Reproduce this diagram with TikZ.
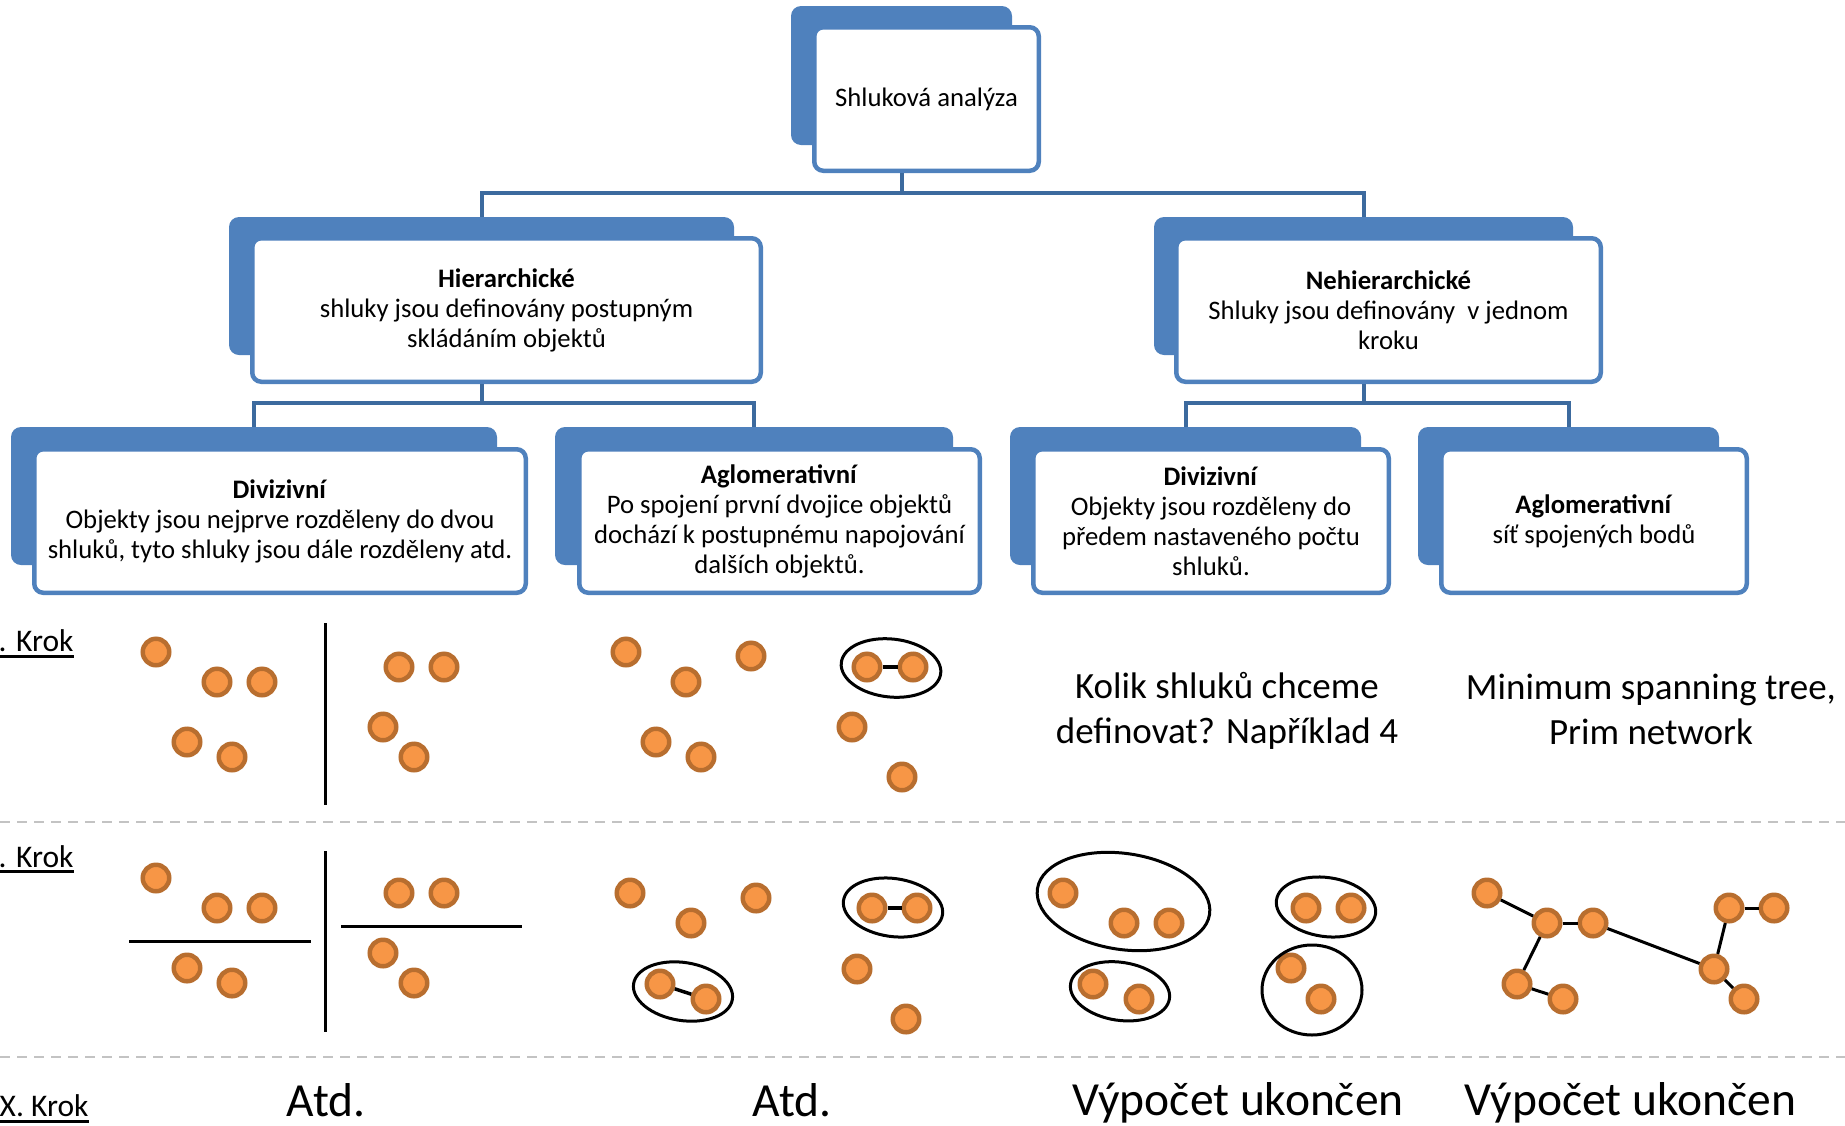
\documentclass[tikz,border=0pt]{standalone}
\usepackage{fontspec}
\setmainfont{Carlito}
\definecolor{smartblue}{HTML}{4F81BD}
\definecolor{stemblue}{HTML}{3C6A9E}
\definecolor{dotorange}{HTML}{F79646}
\definecolor{dotbrown}{HTML}{B86E2F}
\definecolor{rulegray}{HTML}{C3C3C3}
\tikzset{cardback/.style={rectangle,rounded corners=10pt,fill=smartblue,inner sep=0pt},
         card/.style={rectangle,rounded corners=9pt,draw=smartblue,line width=4.5pt,fill=white,inner sep=0pt,align=center,font=\fontsize{26.7}{30}\selectfont},
         stem/.style={draw=stemblue,line width=4pt},
         obj/.style={circle,fill=dotorange,draw=dotbrown,line width=4.5pt,inner sep=0pt,minimum size=26.5pt},
         pair/.style={line width=3.5pt},
         ring/.style={line width=3pt},
         split/.style={line width=3pt},
         rowrule/.style={draw=rulegray,line width=2.5pt,dash pattern=on 10pt off 7pt},
         krok/.style={anchor=base west,inner sep=0pt,font=\fontsize{31.5}{36}\selectfont},
         hint/.style={align=center,inner sep=0pt,font=\fontsize{37}{45}\selectfont},
         result/.style={anchor=base,inner sep=0pt,font=\fontsize{47.5}{55}\selectfont}}

\begin{document}
\begin{tikzpicture}[x=1pt,y=-1pt]
\useasboundingbox (0,0) rectangle (1845,1125);

%tree boxes
\node[cardback, minimum width=221pt, minimum height=139pt] (top-b)  at (901.5,75.5) {};
\node[card, minimum width=224.5pt, minimum height=143.5pt] (top)     at (926.5,99)   {Shluková analýza};
\node[cardback, minimum width=505pt, minimum height=138pt] (hier-b) at (481.5,286)  {};
\node[card, minimum width=508.5pt, minimum height=143.5pt] (hier)    at (506.5,310)  {\textbf{Hierarchické}\\shluky jsou definovány postupným\\skládáním objektů};
\node[cardback, minimum width=419pt, minimum height=138pt] (nonh-b) at (1363.5,286) {};
\node[card, minimum width=424.5pt, minimum height=143.5pt] (nonh)    at (1388.5,310) {\textbf{Nehierarchické}\\Shluky jsou definovány\ \ v jednom\\kroku};
\node[cardback, minimum width=486pt, minimum height=138pt] (divl-b) at (254,496)    {};
\node[card, minimum width=491.5pt, minimum height=143.5pt] (divl)    at (280,521)    {\textbf{Divizivní}\\Objekty jsou nejprve rozděleny do dvou\\shluků, tyto shluky jsou dále rozděleny atd.};
\node[cardback, minimum width=398pt, minimum height=138pt] (aglol-b) at (754,496)   {};
\node[card, minimum width=400.5pt, minimum height=143.5pt] (aglol)   at (779.5,521)  {\textbf{Aglomerativní}\\Po spojení první dvojice objektů\\dochází k postupnému napojování\\dalších objektů.};
\node[cardback, minimum width=351pt, minimum height=138pt] (divr-b) at (1185.5,496) {};
\node[card, minimum width=355.5pt, minimum height=143.5pt] (divr)    at (1211,521)   {\textbf{Divizivní}\\Objekty jsou rozděleny do\\předem nastaveného počtu\\shluků.};
\node[cardback, minimum width=301pt, minimum height=138pt] (aglor-b) at (1568.5,496) {};
\node[card, minimum width=305.5pt, minimum height=143.5pt] (aglor)   at (1594,521)   {\textbf{Aglomerativní}\\síť spojených bodů};

%tree lines
\draw[stem] (top-b.south |- top.south)   -- ++(0,20) -| (hier-b.north);   %top--hier
\draw[stem] (top-b.south |- top.south)   -- ++(0,20) -| (nonh-b.north);   %top--nonh
\draw[stem] (hier-b.south |- hier.south) -- ++(0,19) -| (divl-b.north);   %hier--divl
\draw[stem] (hier-b.south |- hier.south) -- ++(0,19) -| (aglol-b.north);  %hier--aglol
\draw[stem] (nonh-b.south |- nonh.south) -- ++(0,19) -| (divr-b.north);   %nonh--divr
\draw[stem] (nonh-b.south |- nonh.south) -- ++(0,19) -| (aglor-b.north);  %nonh--aglor

%row rules
\draw[rowrule] (0,822)  -- (1845,822);
\draw[rowrule] (0,1057) -- (1845,1057);

%step labels
\node[krok] (k1) at (-1.5,651.5) {. Krok};
\node[krok] (k2) at (-1.5,867)   {. Krok};
\node[krok] (kx) at (-0.5,1116.5) {X. Krok};
\draw[line width=3pt] ([yshift=-4.7pt]k1.base west) -- ([yshift=-4.7pt]k1.base east);
\draw[line width=3pt] ([yshift=-4.7pt]k2.base west) -- ([yshift=-4.7pt]k2.base east);
\draw[line width=3pt] ([yshift=-4.7pt]kx.base west) -- ([yshift=-4.7pt]kx.base east);

%step 1, divisive
\node[obj] (dv1) at (156,652) {};  \node[obj] (dv2) at (217,682) {};  \node[obj] (dv3) at (262,682) {};
\node[obj] (dv4) at (187,742) {};  \node[obj] (dv5) at (232,757) {};
\node[obj] (dv6) at (399,667) {};  \node[obj] (dv7) at (444,667) {};
\node[obj] (dv8) at (383,727) {};  \node[obj] (dv9) at (414,757) {};
\draw[split] (325,623) -- (325,805);

%step 2, divisive
\node[obj] (dw1) at (156,878) {};  \node[obj] (dw2) at (217,908) {};  \node[obj] (dw3) at (262,908) {};
\node[obj] (dw4) at (187,968) {};  \node[obj] (dw5) at (232,983) {};
\node[obj] (dw6) at (399,893) {};  \node[obj] (dw7) at (444,893) {};
\node[obj] (dw8) at (383,953) {};  \node[obj] (dw9) at (414,983) {};
\draw[split] (325,851) -- (325,1032);
\draw[split] (129,941) -- (311,941);
\draw[split] (341,926) -- (522,926);

%step 1, agglomerative
\node[obj] (ag1) at (626,652) {};  \node[obj] (ag2) at (751,656) {};  \node[obj] (ag3) at (686,682) {};
\node[obj] (ag4) at (656,742) {};  \node[obj] (ag5) at (701,757) {};
\node[obj] (ag6) at (867,667) {};  \node[obj] (ag7) at (913,667) {};
\node[obj] (ag8) at (852,727) {};  \node[obj] (ag9) at (902,777) {};
\draw[pair] (ag6) -- (ag7);
\draw[ring, rotate around={-6:(891,668)}] (891,668) ellipse [x radius=50pt, y radius=29pt];

%step 2, agglomerative
\node[obj] (ah1) at (630,893) {};  \node[obj] (ah2) at (756,898) {};  \node[obj] (ah3) at (691,923) {};
\node[obj] (ah4) at (660,984) {};  \node[obj] (ah5) at (706,999) {};
\node[obj] (ah6) at (872,908) {};  \node[obj] (ah7) at (917,908) {};
\node[obj] (ah8) at (857,969) {};  \node[obj] (ah9) at (906,1019) {};
\draw[pair] (ah4) -- (ah5);
\draw[pair] (ah6) -- (ah7);
\draw[ring, rotate around={-9:(683,991.5)}] (683,991.5) ellipse [x radius=50pt, y radius=29pt];
\draw[ring, rotate around={-8:(893,907.5)}] (893,907.5) ellipse [x radius=50pt, y radius=29pt];

%step 1, non-hierarchical
\node[hint] (kolik) at (1227,711) {Kolik shluků chceme\\definovat? Například 4};
\node[hint] (prim)  at (1651,709) {Minimum spanning tree,\\Prim network};

%step 2, k clusters
\node[obj] (km1) at (1063,893) {};  \node[obj] (km2) at (1124,923) {};  \node[obj] (km3) at (1169,923) {};
\node[obj] (km4) at (1093,984) {};  \node[obj] (km5) at (1139,999) {};
\node[obj] (km6) at (1306,908) {};  \node[obj] (km7) at (1351,908) {};
\node[obj] (km8) at (1291,968) {};  \node[obj] (km9) at (1321,999) {};
\draw[ring, rotate around={-8.5:(1123.5,901.5)}] (1123.5,901.5) ellipse [x radius=87pt, y radius=48pt];
\draw[ring, rotate around={-8.6:(1120,991.3)}]   (1120,991.3)   ellipse [x radius=50pt, y radius=29pt];
\draw[ring, rotate around={-8:(1326,907)}]       (1326,907)     ellipse [x radius=50pt, y radius=29.5pt];
\draw[ring] (1312,990) ellipse [x radius=50pt, y radius=45pt];

%step 2, spanning tree
\node[obj] (mA) at (1487,893) {};  \node[obj] (mB) at (1547,923) {};  \node[obj] (mC) at (1593,923) {};
\node[obj] (mD) at (1517,984) {};  \node[obj] (mE) at (1563,999) {};
\node[obj] (mF) at (1729,908) {};  \node[obj] (mG) at (1774,908) {};
\node[obj] (mH) at (1714,969) {};  \node[obj] (mI) at (1744,999) {};
\draw[ring] (mA)--(mB);  \draw[ring] (mB)--(mC);  \draw[ring] (mB)--(mD);  \draw[ring] (mD)--(mE);
\draw[ring] (mC)--(mH);  \draw[ring] (mF)--(mG);  \draw[ring] (mF)--(mH);  \draw[ring] (mH)--(mI);

%last step
\node[result] (atd1) at (326,1116.5)  {Atd.};
\node[result] (atd2) at (792,1116.5)  {Atd.};
\node[result] (end1) at (1238,1115)   {Výpočet ukončen};
\node[result] (end2) at (1630.5,1115) {Výpočet ukončen};
\end{tikzpicture}
\end{document}
